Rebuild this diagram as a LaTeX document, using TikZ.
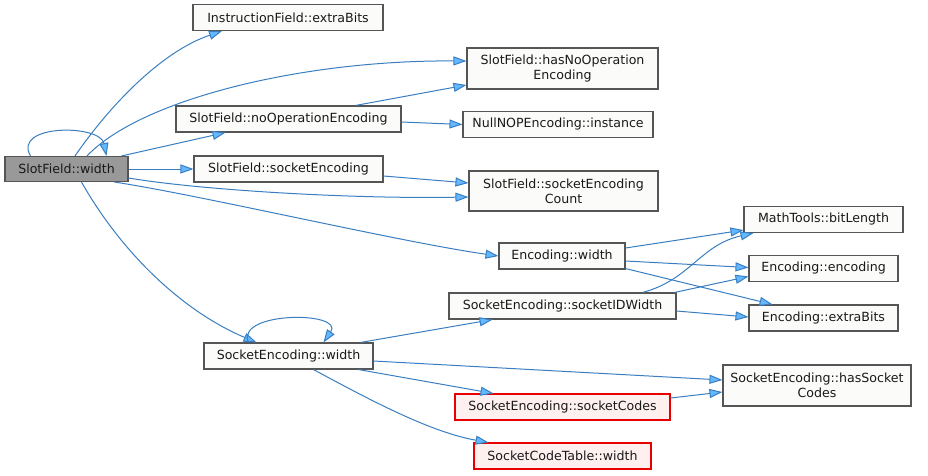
\documentclass[tikz,border=0pt]{standalone}
\usepackage{fontspec}
\setmainfont{DejaVu Sans}
\usetikzlibrary{arrows.meta}
\definecolor{edgeblue}{HTML}{3A7EC2}
\definecolor{headblue}{HTML}{63B8FF}
\definecolor{boxline}{HTML}{555555}
\definecolor{rootfill}{HTML}{999999}
\definecolor{hotfill}{HTML}{FFF0F0}
\definecolor{hotline}{HTML}{E80000}
\definecolor{plainfill}{HTML}{FBFCFA}
\begin{document}
\begin{tikzpicture}[x=1pt,y=-1pt,
  fn/.style={draw=boxline, line width=1.1pt, fill=plainfill, inner sep=0pt,
    minimum height=26pt, font=\fontsize{12.6}{15}\selectfont, text=black!90, align=center},
  root/.style={fn, fill=rootfill},
  hot/.style={fn, draw=hotline, fill=hotfill},
  call/.style={draw=edgeblue, line width=1pt,
    -{Triangle[length=13pt,width=9pt,fill=headblue]}}]
\fill[white] (0,0) rectangle (928,475);
\useasboundingbox (0,0) rectangle (928,475);

% functions
\node[root, minimum width=123pt, minimum height=25pt] (A) at (66.5,169) {SlotField::width};
\node[fn, minimum width=190pt] (IE) at (288,17.5) {InstructionField::extraBits};
\node[fn, minimum width=191pt, minimum height=41pt] (HNOE) at (562.5,68.5) {SlotField::hasNoOperation\\Encoding};
\node[fn, minimum width=225pt] (NOE) at (288.5,119) {SlotField::noOperationEncoding};
\node[fn, minimum width=190pt] (NULL) at (558,124.5) {NullNOPEncoding::instance};
\node[fn, minimum width=189pt] (SE) at (288.5,169) {SlotField::socketEncoding};
\node[fn, minimum width=189pt, minimum height=40pt] (SEC) at (563.5,191) {SlotField::socketEncoding\\Count};
\node[fn, minimum width=159pt] (MT) at (823.5,219.5) {MathTools::bitLength};
\node[fn, minimum width=126pt] (EW) at (562,256) {Encoding::width};
\node[fn, minimum width=149pt] (EE) at (823.5,268.5) {Encoding::encoding};
\node[fn, minimum width=227pt] (SID) at (562.5,306) {SocketEncoding::socketIDWidth};
\node[fn, minimum width=149pt] (EX) at (823.5,318) {Encoding::extraBits};
\node[fn, minimum width=169pt] (SW) at (288.5,356) {SocketEncoding::width};
\node[fn, minimum width=188pt, minimum height=41pt] (HSC) at (817,385.5) {SocketEncoding::hasSocket\\Codes};
\node[hot, minimum width=215pt] (SC) at (562.5,407) {SocketEncoding::socketCodes};
\node[hot, minimum width=177pt] (SCT) at (562.5,456) {SocketCodeTable::width};

% calls from SlotField::width
\draw[call] ([xshift=-36pt]A.north) .. controls (12,124) and (100,124) .. ([xshift=40pt]A.north);
\draw[call] ([xshift=8.5pt]A.north) .. controls (108,108) and (160,52) .. ([xshift=-66pt]IE.south);
\draw[call] ([xshift=20.5pt]A.north) .. controls (140,100) and (300,60) .. ([yshift=7.5pt]HNOE.west);
\draw[call] ([xshift=55pt]A.north) -- ([xshift=-63pt]NOE.south);
\draw[call] (A.east) -- (SE.west);
\draw[call] ([yshift=-9pt]A.east) .. controls (200,190) and (350,199) .. ([yshift=-6pt]SEC.west);
\draw[call] ([xshift=48pt]A.south) .. controls (200,195) and (400,242) .. (EW.west);
\draw[call] ([xshift=15pt]A.south) .. controls (120,250) and (180,310) .. ([xshift=-32pt]SW.north);

% calls from SlotField helpers
\draw[call] ([xshift=67pt]NOE.north) -- ([yshift=-16.5pt]HNOE.west);
\draw[call] ([yshift=-3pt]NOE.east) -- (NULL.west);
\draw[call] ([yshift=-7pt]SE.east) -- ([yshift=8pt]SEC.west);

% calls from Encoding::width
\draw[call] ([yshift=8pt]EW.east) -- ([yshift=3pt]MT.south west);
\draw[call] ([yshift=-5pt]EW.east) -- ([yshift=1pt]EE.west);
\draw[call] ([yshift=1pt]EW.south east) -- ([xshift=-51pt]EX.north);

% calls from SocketEncoding::socketIDWidth
\draw[call] ([xshift=80pt]SID.north) .. controls (690,280) and (700,245) .. ([xshift=-70pt]MT.south);
\draw[call] ([xshift=-2pt]SID.north east) -- ([yshift=-8pt]EE.west);
\draw[call] ([yshift=-5pt]SID.east) -- ([yshift=1pt]EX.west);

% calls from SocketEncoding::width
\draw[call] ([xshift=-40pt]SW.north) .. controls (235,311) and (345,311) .. ([xshift=35pt]SW.north);
\draw[call] ([xshift=72pt]SW.north) -- ([xshift=-70pt]SID.south);
\draw[call] ([yshift=-5pt]SW.east) -- ([yshift=5.5pt]HSC.west);
\draw[call] ([xshift=70pt]SW.south) -- ([xshift=-69pt]SC.north);
\draw[call] ([xshift=25pt]SW.south) .. controls (370,400) and (430,432) .. ([xshift=-74pt]SCT.north);
\draw[call] ([yshift=9pt]SC.east) -- ([yshift=-6.5pt]HSC.west);
\end{tikzpicture}
\end{document}
